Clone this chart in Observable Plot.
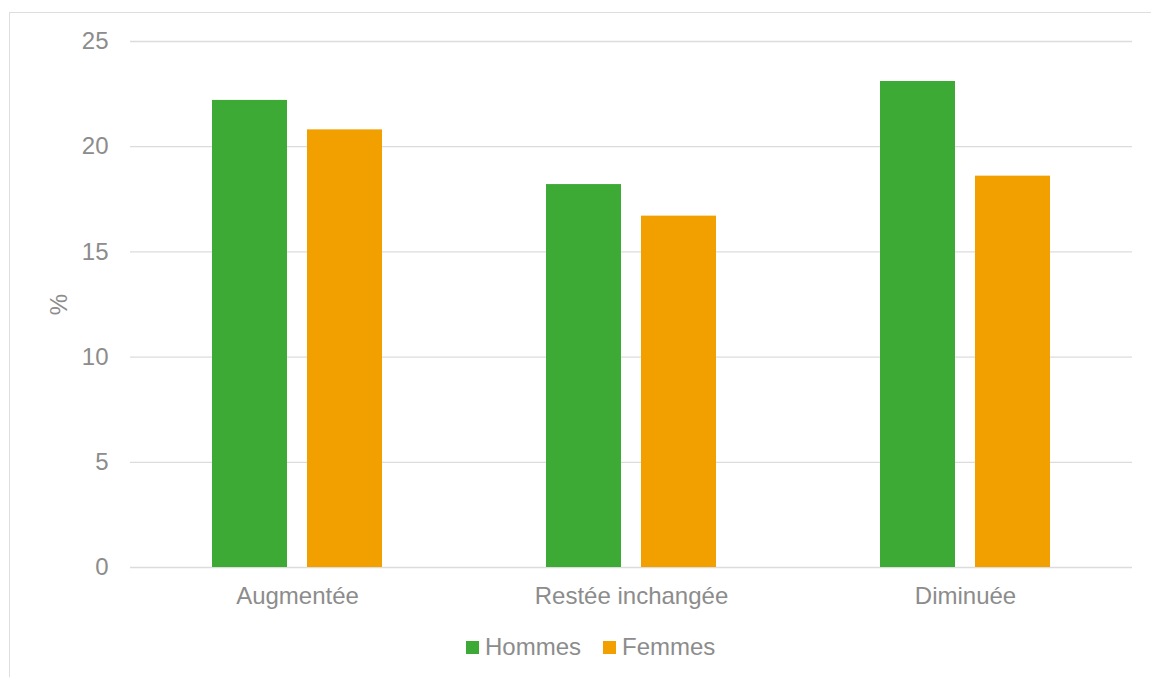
<!DOCTYPE html>
<html>
<head>
<meta charset="utf-8">
<script src="https://cdn.jsdelivr.net/npm/d3@7"></script>
<script src="https://cdn.jsdelivr.net/npm/@observablehq/plot@0.6"></script>
<style>
  html, body { margin: 0; padding: 0; background: #fff; }
  body { width: 1151px; height: 677px; position: relative; overflow: hidden; font-family: "Liberation Sans", Arial, sans-serif; }
  #frame { position: absolute; left: 9px; top: 12px; width: 1160px; height: 700px; border: 1px solid #dedede; box-sizing: border-box; }
  #chart { position: absolute; left: 0; top: 0; }
  #legend { position: absolute; left: 466px; top: 633px; display: flex; align-items: center; font-size: 24px; color: #8c8c8c; }
  .sw { width: 13px; height: 13px; display: inline-block; margin-right: 6px; }
  .item { display: flex; align-items: center; margin-right: 22px; }
</style>
</head>
<body>
<div id="frame"></div>
<div id="chart"></div>
<div id="legend"></div>
<script>
const categories = ["Augmentée", "Restée inchangée", "Diminuée"];
const series = ["Hommes", "Femmes"];
const hommes = [22.2, 18.2, 23.1];
const femmes = [20.8, 16.7, 18.6];
const colors = ["#3DAA35", "#F29F00"];
const yTicks = [0, 5, 10, 15, 20, 25];
const yLabel = "%";

const rows = [];
categories.forEach((c, i) => {
  rows.push({category: c, sex: series[0], value: hommes[i]});
  rows.push({category: c, sex: series[1], value: femmes[i]});
});

const plot = Plot.plot({
  width: 1151,
  height: 615,
  marginTop: 41,
  marginBottom: 48,
  marginLeft: 129,
  marginRight: 19,
  style: {fontFamily: "Liberation Sans, Arial, sans-serif", fontSize: "24px", color: "#8c8c8c", background: "transparent"},
  fx: {domain: categories, padding: 0, paddingInner: 0, paddingOuter: 0, label: null, axis: "bottom", tickSize: 0, tickPadding: 19},
  x: {domain: series, paddingInner: 0.2105, paddingOuter: 0.863, axis: null},
  y: {domain: [0, 25], ticks: yTicks, label: null, tickSize: 0, tickPadding: 22},
  color: {domain: series, range: colors},
  marks: [
    Plot.gridY(yTicks, {stroke: "#dcdcdc", strokeOpacity: 1, strokeWidth: 1.3}),
    Plot.barY(rows, {fx: "category", x: "sex", y: "value", fill: "sex"}),
    Plot.text([yLabel], {fx: () => categories[0], text: d => d, frameAnchor: "left", dx: -71, rotate: -90, textAnchor: "middle", lineAnchor: "middle", fontSize: 24, fill: "#8c8c8c"})
  ]
});
document.getElementById("chart").appendChild(plot);

const legend = document.getElementById("legend");
series.forEach((s, i) => {
  const item = document.createElement("div");
  item.className = "item";
  const sw = document.createElement("span");
  sw.className = "sw";
  sw.style.background = colors[i];
  const t = document.createElement("span");
  t.textContent = s;
  item.appendChild(sw);
  item.appendChild(t);
  legend.appendChild(item);
});
</script>
</body>
</html>
